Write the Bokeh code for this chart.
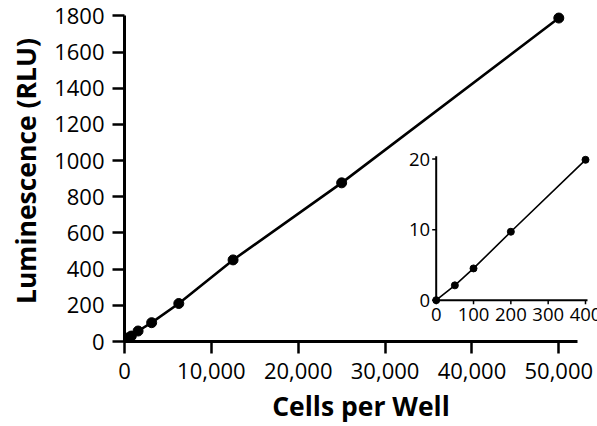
from bokeh.plotting import figure
from bokeh.models import Range1d, FixedTicker, NumeralTickFormatter, ColumnDataSource
from bokeh.core.properties import value
from bokeh.embed import file_html
from bokeh.resources import INLINE

# ---- data ----
cells = [0, 50, 100, 200, 400, 781, 1563, 3125, 6250, 12500, 25000, 50000]
rlu = [0, 2.1, 4.5, 9.7, 19.9, 30, 58, 104, 210, 451, 877, 1788]
inset_cells = [0, 50, 100, 200, 400]
inset_rlu = [0, 2.1, 4.5, 9.7, 19.9]
x_ticks = [0, 10000, 20000, 30000, 40000, 50000]
y_ticks = [0, 200, 400, 600, 800, 1000, 1200, 1400, 1600, 1800]
inset_x_ticks = [0, 100, 200, 300, 400]
inset_y_ticks = [0, 10, 20]
x_title = "Cells per Well"
y_title = "Luminescence (RLU)"

FONT = "Open Sans"
INK = "#000000"

W, H = 597, 426
BL, BR, BT, BB = 124, 0, 0, 82
FW = W - BL - BR   # frame width px
FH = H - BT - BB   # frame height px

x_px_per = 0.0086860           # px per cell
y_px_per = 328.5 / 1800.0      # px per RLU
p = figure(width=W, height=H, output_backend="svg", toolbar_location=None,
           min_border_left=BL, min_border_right=BR, min_border_top=BT, min_border_bottom=BB,
           x_range=Range1d(0, FW / x_px_per), y_range=Range1d(0, FH / y_px_per))
p.outline_line_color = None
p.xgrid.visible = False
p.ygrid.visible = False
p.background_fill_color = "white"
p.border_fill_color = "white"

# inset scales (extra ranges spanning the same frame)
ix0_px, ix_px_per = 435.7 - 124.0, (585.0 - 435.7) / 400.0
iy0_px, iy_px_per = 344.0 - 302.3, (302.3 - 160.0) / 20.0
ixs = -ix0_px / ix_px_per
iys = -iy0_px / iy_px_per
p.extra_x_ranges = {"ix": Range1d(ixs, ixs + FW / ix_px_per)}
p.extra_y_ranges = {"iy": Range1d(iys, iys + FH / iy_px_per)}

# main series
p.line(cells, rlu, line_color="black", line_width=2.6)
p.scatter(cells, rlu, size=10, fill_color="black", line_color="black")

# main axes
for ax in (p.xaxis[0], p.yaxis[0]):
    ax.axis_line_width = 3
    ax.axis_line_color = "black"
    ax.major_tick_line_width = 2.5
    ax.major_tick_line_color = "black"
    ax.major_tick_out = 12
    ax.major_tick_in = 0
    ax.minor_tick_line_color = None
    ax.major_label_text_font = FONT
    ax.major_label_text_font_size = "22px"
    ax.major_label_text_color = INK
    ax.axis_label_text_font = FONT
    ax.axis_label_text_font_style = "bold"
    ax.axis_label_text_font_size = "26.5px"
    ax.axis_label_text_color = "black"

p.xaxis.ticker = FixedTicker(ticks=x_ticks)
p.xaxis.formatter = NumeralTickFormatter(format="0,0")
p.xaxis.bounds = (0, 52200)
p.xaxis.axis_label = x_title
p.xaxis.major_label_standoff = 9
p.xaxis.axis_label_standoff = 6

p.yaxis.ticker = FixedTicker(ticks=y_ticks)
p.yaxis.bounds = (0, 1800)
p.yaxis.axis_label = y_title
p.yaxis.major_label_standoff = 8
p.yaxis.axis_label_standoff = 7

# inset
kw = dict(x_range_name="ix", y_range_name="iy")
p.line(inset_cells, inset_rlu, line_color="black", line_width=1.6, **kw)
p.scatter(inset_cells, inset_rlu, size=7, fill_color="black", line_color="black", **kw)

x_end = max(inset_x_ticks) + 2.0 / ix_px_per
y_end = max(inset_y_ticks) + 3.0 / iy_px_per
p.segment(x0=[0, 0], y0=[0, 0], x1=[x_end, 0], y1=[0, y_end],
          line_color="black", line_width=2, **kw)

tl = 4.0
p.segment(x0=inset_x_ticks, y0=[0] * len(inset_x_ticks),
          x1=inset_x_ticks, y1=[-tl / iy_px_per] * len(inset_x_ticks),
          line_color="black", line_width=1.5, **kw)
p.segment(x0=[0] * len(inset_y_ticks), y0=inset_y_ticks,
          x1=[-tl / ix_px_per] * len(inset_y_ticks), y1=inset_y_ticks,
          line_color="black", line_width=1.5, **kw)

xsrc = ColumnDataSource(dict(x=inset_x_ticks, y=[0] * len(inset_x_ticks),
                             t=[str(v) for v in inset_x_ticks]))
p.text(x="x", y="y", text="t", source=xsrc, text_align="center", text_baseline="top",
       y_offset=8, text_font=value(FONT), text_font_size="18.5px", text_color=INK, **kw)
ysrc = ColumnDataSource(dict(x=[0] * len(inset_y_ticks), y=inset_y_ticks,
                             t=[str(v) for v in inset_y_ticks]))
p.text(x="x", y="y", text="t", source=ysrc, text_align="right", text_baseline="middle",
       x_offset=-6, text_font=value(FONT), text_font_size="18.5px", text_color=INK, **kw)

open("out.html", "w").write(file_html(p, INLINE))
